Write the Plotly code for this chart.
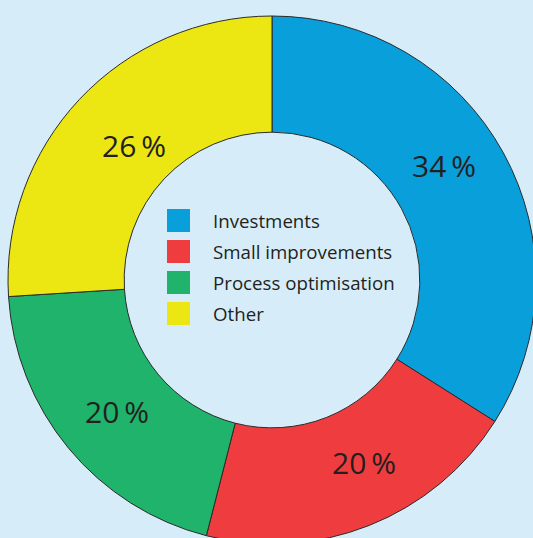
import plotly.graph_objects as go

labels = ["Investments", "Small improvements", "Process optimisation", "Other"]
values = [34, 20, 20, 26]
colors = ["#089fdb", "#ef3d3f", "#20b36b", "#ece713"]

BG = "#d6edf9"
TXT = "#231f20"
FONT = "Open Sans"

W, H = 536, 544
ML, MT = 8, 16
PW = W - ML
PH = H - MT


def px(x):
    return (x - ML) / PW


def py(y):
    return 1 - (y - MT) / PH


fig = go.Figure()
fig.add_trace(go.Pie(
    labels=labels,
    values=values,
    sort=False,
    direction="clockwise",
    rotation=0,
    hole=0.56,
    marker=dict(colors=colors, line=dict(color="#2b2b2b", width=1)),
    textinfo="none",
    hoverinfo="label+value",
    showlegend=False,
    domain=dict(x=[0, 1], y=[0, 1]),
))

# Percentage labels placed as in the original artwork
label_pos = [(444, 165), (364, 462), (117, 411), (134, 145)]
for v, (lx, ly) in zip(values, label_pos):
    fig.add_annotation(xref="paper", yref="paper", x=px(lx), y=py(ly),
                       xanchor="center", yanchor="middle", showarrow=False,
                       text=f"{v}\u2009%",
                       font=dict(family=FONT, size=30, color=TXT))

# Legend drawn in the centre of the donut
row_y0 = 220.5
row_step = 31
for i, (lab, col) in enumerate(zip(labels, colors)):
    cy = row_y0 + i * row_step
    fig.add_shape(type="rect", xref="paper", yref="paper",
                  x0=px(167), x1=px(190), y0=py(cy - 11.5), y1=py(cy + 11.5),
                  fillcolor=col, line=dict(width=0))
    fig.add_annotation(xref="paper", yref="paper", x=px(211), y=py(cy),
                       xanchor="left", yanchor="middle", showarrow=False,
                       text=lab, font=dict(family=FONT, size=18.7, color=TXT))

fig.update_layout(
    width=W, height=H,
    margin=dict(l=ML, r=0, t=MT, b=0, pad=0),
    paper_bgcolor=BG, plot_bgcolor=BG,
)

fig.write_html("out.html",
               post_script="document.body.style.margin='0';document.body.style.overflow='hidden';")
